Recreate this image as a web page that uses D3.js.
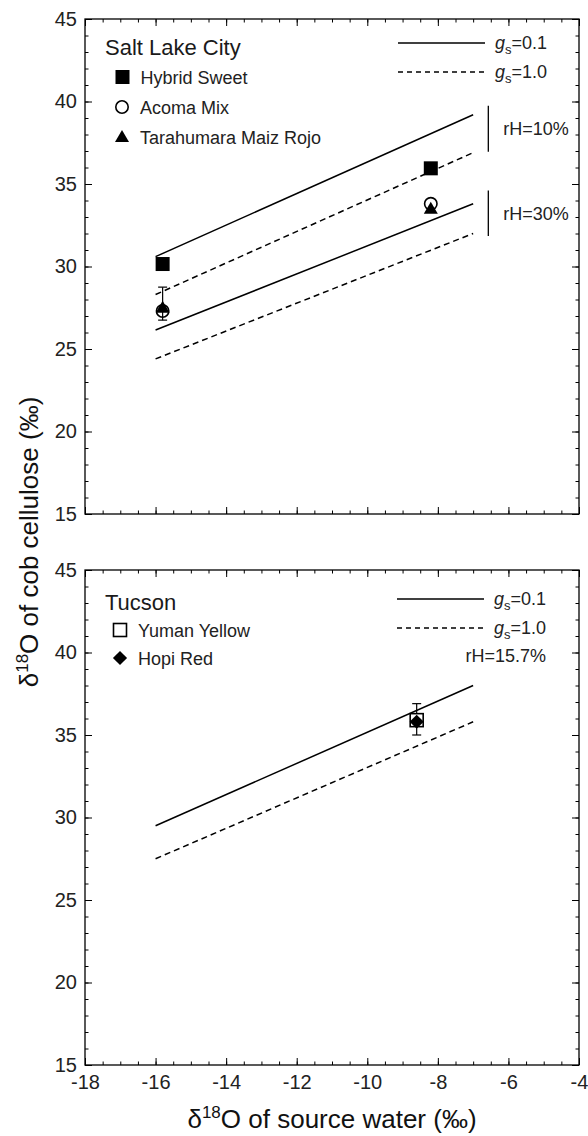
<!DOCTYPE html>
<html>
<head>
<meta charset="utf-8">
<script src="https://cdn.jsdelivr.net/npm/d3@7"></script>
<style>
body { margin: 0; background: #fff; }
text { font-family: "Liberation Sans", Arial, Helvetica, sans-serif; }
</style>
</head>
<body>
<script>
/* values */
var xTicks = [-18, -16, -14, -12, -10, -8, -6, -4]
var yTicks = [15, 20, 25, 30, 35, 40, 45]

// model lines (both panels), source water from -16 to -7
var modelWater = [-16, -7]
var slc10Solid = [30.6, 39.2]
var slc10Dashed = [28.3, 36.9]
var slc30Solid = [26.15, 33.8]
var slc30Dashed = [24.4, 32.0]
var tucSolid = [29.5, 38.0]
var tucDashed = [27.5, 35.8]

// Salt Lake City points
var slcWater = [-15.8, -8.2]
var hybridSweet = [30.15, 35.95]
var acomaMix = [27.3, 33.8]
var tarahumara = [27.5, 33.5]
var tarahumaraErr = [[26.75, 28.75], null]

// Tucson points
var tucWater = [-8.6]
var yumanYellow = [35.9]
var hopiRed = [35.8]
var yumanErr = [[35.0, 36.9]]

// rH brackets
var bracketWater = -6.57
var rh10Bracket = [36.95, 39.75]
var rh30Bracket = [31.85, 34.6]

var svg = d3.select("body").append("svg")
	.attr("width", 588)
	.attr("height", 1136)

var x = d3.scaleLinear().domain([-18, -4]).range([85, 579])
var yTop = d3.scaleLinear().domain([15, 45]).range([514, 19])
var yBot = d3.scaleLinear().domain([15, 45]).range([1065, 570])

var xMinor = d3.range(-18, -3.9, 0.5)
var yMinor = d3.range(15, 45.1, 1)

function drawFrame(y, showX){
	var g = svg.append("g").attr("class", "frame")
	var y0 = y.range()[0], y1 = y.range()[1]

	function style(sel){
		sel.select(".domain").remove()
		sel.selectAll("line").attr("stroke", "#000").attr("stroke-width", 1)
		sel.selectAll("text").attr("font-size", 20).attr("fill", "#222")
			.attr("font-family", "'Liberation Sans', Arial, sans-serif")
	}

	g.append("g").attr("transform", "translate(0," + y0 + ")")
		.call(d3.axisBottom(x).tickValues(xTicks).tickSize(-7).tickSizeOuter(0).tickPadding(10)
			.tickFormat(function(d){ return showX ? String(d) : "" }))
		.call(style)
	g.append("g").attr("transform", "translate(0," + y0 + ")")
		.call(d3.axisBottom(x).tickValues(xMinor).tickSize(-3.5).tickSizeOuter(0).tickFormat(""))
		.call(style)
	g.append("g").attr("transform", "translate(0," + y1 + ")")
		.call(d3.axisTop(x).tickValues(xTicks).tickSize(-7).tickSizeOuter(0).tickFormat(""))
		.call(style)
	g.append("g").attr("transform", "translate(0," + y1 + ")")
		.call(d3.axisTop(x).tickValues(xMinor).tickSize(-3.5).tickSizeOuter(0).tickFormat(""))
		.call(style)

	g.append("g").attr("transform", "translate(" + x(-18) + ",0)")
		.call(d3.axisLeft(y).tickValues(yTicks).tickSize(-7).tickSizeOuter(0).tickPadding(8)
			.tickFormat(function(d){ return String(d) }))
		.call(style)
	g.append("g").attr("transform", "translate(" + x(-18) + ",0)")
		.call(d3.axisLeft(y).tickValues(yMinor).tickSize(-3.5).tickSizeOuter(0).tickFormat(""))
		.call(style)
	g.append("g").attr("transform", "translate(" + x(-4) + ",0)")
		.call(d3.axisRight(y).tickValues(yTicks).tickSize(-7).tickSizeOuter(0).tickFormat(""))
		.call(style)
	g.append("g").attr("transform", "translate(" + x(-4) + ",0)")
		.call(d3.axisRight(y).tickValues(yMinor).tickSize(-3.5).tickSizeOuter(0).tickFormat(""))
		.call(style)

	g.append("rect")
		.attr("x", x(-18)).attr("y", y1)
		.attr("width", x(-4) - x(-18)).attr("height", y0 - y1)
		.attr("fill", "none").attr("stroke", "#000").attr("stroke-width", 1.3)
}

function modelLine(y, vals, dashed){
	var pts = modelWater.map(function(w, i){ return [w, vals[i]] })
	svg.append("path")
		.datum(pts)
		.attr("d", d3.line().x(function(d){ return x(d[0]) }).y(function(d){ return y(d[1]) }))
		.attr("fill", "none")
		.attr("stroke", "#000")
		.attr("stroke-width", 1.5)
		.attr("stroke-dasharray", dashed ? "6,4" : null)
}

function errBars(y, water, errs){
	errs.forEach(function(e, i){
		if(!e) return
		var cx = x(water[i])
		svg.append("line").attr("x1", cx).attr("x2", cx)
			.attr("y1", y(e[0])).attr("y2", y(e[1])).attr("stroke", "#000").attr("stroke-width", 1.2)
		e.forEach(function(v){
			svg.append("line").attr("x1", cx - 4.5).attr("x2", cx + 4.5)
				.attr("y1", y(v)).attr("y2", y(v)).attr("stroke", "#000").attr("stroke-width", 1.2)
		})
	})
}

var trianglePath = "M0,-7L7,5L-7,5Z"

function marker(g, kind, cx, cy){
	if(kind == "square"){
		g.append("rect").attr("x", cx - 7).attr("y", cy - 7).attr("width", 14).attr("height", 14).attr("fill", "#000")
	} else if(kind == "openSquare"){
		g.append("rect").attr("x", cx - 6.5).attr("y", cy - 6.5).attr("width", 13).attr("height", 13)
			.attr("fill", "#fff").attr("stroke", "#000").attr("stroke-width", 1.6)
	} else if(kind == "circle"){
		g.append("circle").attr("cx", cx).attr("cy", cy).attr("r", 6.2)
			.attr("fill", "none").attr("stroke", "#000").attr("stroke-width", 1.6)
	} else if(kind == "triangle"){
		g.append("path").attr("d", trianglePath).attr("transform", "translate(" + cx + "," + cy + ")").attr("fill", "#000")
	} else if(kind == "diamond"){
		g.append("rect").attr("x", -5).attr("y", -5).attr("width", 10).attr("height", 10)
			.attr("transform", "translate(" + cx + "," + cy + ") rotate(45)").attr("fill", "#000")
	}
}

function points(y, water, vals, kind){
	var g = svg.append("g").attr("class", "pts")
	water.forEach(function(w, i){ marker(g, kind, x(w), y(vals[i])) })
}

function gsLegend(xStart, xEnd, yLine, label, dashed){
	svg.append("line").attr("x1", xStart).attr("x2", xEnd).attr("y1", yLine).attr("y2", yLine)
		.attr("stroke", "#000").attr("stroke-width", 1.3).attr("stroke-dasharray", dashed ? "5,4" : null)
	var t = svg.append("text").attr("x", xEnd + 10).attr("y", yLine + 6).attr("font-size", 18).attr("fill", "#222")
	t.append("tspan").attr("font-style", "italic").text("g")
	t.append("tspan").attr("font-size", 13).attr("dy", 5).text("s")
	t.append("tspan").attr("dy", -5).text(label)
}

function legendItem(kind, cx, cy, label){
	var g = svg.append("g")
	marker(g, kind, cx, cy)
	g.append("text").attr("x", cx + 18).attr("y", cy + 6.5).attr("font-size", 18).attr("fill", "#222").text(label)
}

/* top panel: Salt Lake City */
drawFrame(yTop, false)
modelLine(yTop, slc10Solid, false)
modelLine(yTop, slc10Dashed, true)
modelLine(yTop, slc30Solid, false)
modelLine(yTop, slc30Dashed, true)
errBars(yTop, slcWater, tarahumaraErr)
points(yTop, slcWater, hybridSweet, "square")
points(yTop, slcWater, acomaMix, "circle")
points(yTop, slcWater, tarahumara, "triangle")

;[rh10Bracket, rh30Bracket].forEach(function(b, i){
	svg.append("line").attr("x1", x(bracketWater)).attr("x2", x(bracketWater))
		.attr("y1", yTop(b[0])).attr("y2", yTop(b[1])).attr("stroke", "#000").attr("stroke-width", 1.3)
	svg.append("text").attr("x", x(bracketWater) + 15).attr("y", yTop((b[0] + b[1]) / 2) + 6.5)
		.attr("font-size", 18).attr("fill", "#222").text(i == 0 ? "rH=10%" : "rH=30%")
})

svg.append("text").attr("x", 105).attr("y", 55).attr("font-size", 22).attr("fill", "#1a1a1a").text("Salt Lake City")
legendItem("square", 122.5, 77, "Hybrid Sweet")
legendItem("circle", 122, 107, "Acoma Mix")
legendItem("triangle", 122, 137, "Tarahumara Maiz Rojo")
gsLegend(398, 485, 43, "=0.1", false)
gsLegend(398, 485, 72, "=1.0", true)

/* bottom panel: Tucson */
drawFrame(yBot, true)
modelLine(yBot, tucSolid, false)
modelLine(yBot, tucDashed, true)
errBars(yBot, tucWater, yumanErr)
points(yBot, tucWater, yumanYellow, "openSquare")
points(yBot, tucWater, hopiRed, "diamond")

svg.append("text").attr("x", 105).attr("y", 610).attr("font-size", 22).attr("fill", "#1a1a1a").text("Tucson")
legendItem("openSquare", 120, 630, "Yuman Yellow")
legendItem("diamond", 120, 658, "Hopi Red")
gsLegend(397, 484, 599, "=0.1", false)
gsLegend(397, 484, 628, "=1.0", true)
svg.append("text").attr("x", 546).attr("y", 662).attr("text-anchor", "end")
	.attr("font-size", 18).attr("fill", "#222").text("rH=15.7%")

/* axis titles */
var xl = svg.append("text").attr("x", 332).attr("y", 1128).attr("text-anchor", "middle")
	.attr("font-size", 26).attr("fill", "#111")
xl.append("tspan").text("δ")
xl.append("tspan").attr("font-size", 17).attr("dy", -10).text("18")
xl.append("tspan").attr("dy", 10).text("O of source water (‰)")

var yl = svg.append("text").attr("transform", "translate(38,542) rotate(-90)").attr("text-anchor", "middle")
	.attr("font-size", 26).attr("fill", "#111")
yl.append("tspan").text("δ")
yl.append("tspan").attr("font-size", 17).attr("dy", -10).text("18")
yl.append("tspan").attr("dy", 10).text("O of cob cellulose (‰)")
</script>
</body>
</html>
